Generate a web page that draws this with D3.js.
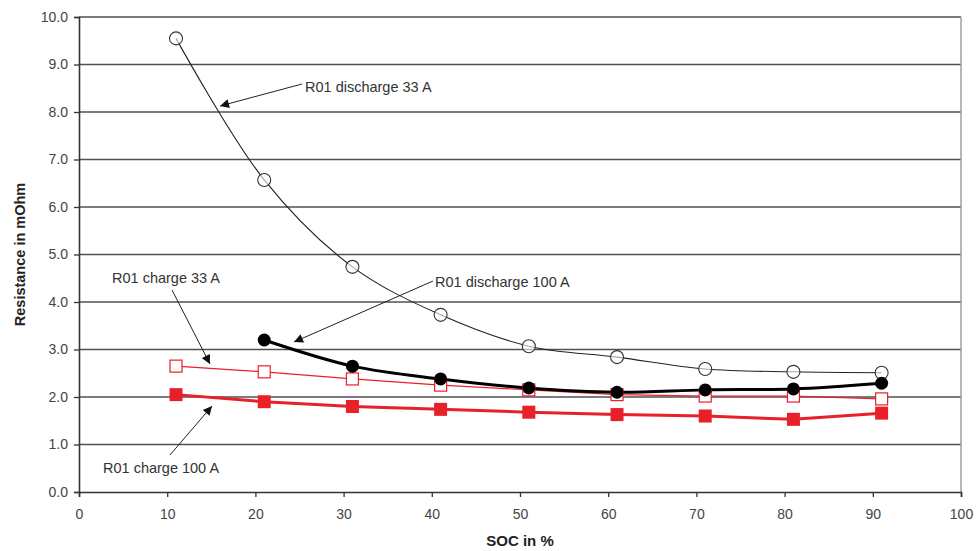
<!DOCTYPE html>
<html><head><meta charset="utf-8">
<script src="https://cdn.jsdelivr.net/npm/d3@7"></script>
<style>body{margin:0;background:#fff;} svg{display:block;font-family:Arial,"Liberation Sans",sans-serif;}</style>
</head><body><svg id="c" width="978" height="551"></svg>
<script>
const soc = [11, 21, 31, 41, 51, 61, 71, 81, 91];
const discharge33 = [9.55, 6.57, 4.74, 3.73, 3.07, 2.84, 2.59, 2.53, 2.51];
const discharge100 = [null, 3.2, 2.65, 2.38, 2.19, 2.1, 2.15, 2.17, 2.29];
const charge33 = [2.65, 2.53, 2.38, 2.25, 2.15, 2.05, 2.02, 2.02, 1.96];
const charge100 = [2.05, 1.9, 1.8, 1.74, 1.68, 1.63, 1.6, 1.53, 1.66];
const xTicks = [0, 10, 20, 30, 40, 50, 60, 70, 80, 90, 100];
const yTicks = [0, 1, 2, 3, 4, 5, 6, 7, 8, 9, 10];
const annotations = [
  {text: "R01 discharge 33 A", tx: 305, ty: 87, x1: 302, y1: 84, x2: 220, y2: 106},
  {text: "R01 discharge 100 A", tx: 435, ty: 282, x1: 433, y1: 281, x2: 294, y2: 342},
  {text: "R01 charge 33 A", tx: 112, ty: 278, x1: 172, y1: 290, x2: 210, y2: 364},
  {text: "R01 charge 100 A", tx: 103, ty: 468, x1: 170, y1: 455, x2: 212, y2: 406}
];

const svg = d3.select("#c");
const L = 79, R = 961, T = 17, B = 492;
const x = d3.scaleLinear().domain([0, 100]).range([L, R]);
const y = d3.scaleLinear().domain([0, 10]).range([B, T]);

// grid
svg.append("g").selectAll("line").data(yTicks.filter(d => d > 0)).join("line")
  .attr("x1", L).attr("x2", R).attr("y1", d => y(d)).attr("y2", d => y(d))
  .attr("stroke", "#505050").attr("stroke-width", 1.4);
// right border
svg.append("line").attr("x1", R).attr("x2", R).attr("y1", T).attr("y2", B)
  .attr("stroke", "#999").attr("stroke-width", 1.4);

// axes
const xAxis = svg.append("g").attr("transform", `translate(0,${B})`)
  .call(d3.axisBottom(x).tickValues(xTicks).tickSize(5).tickPadding(12).tickFormat(d3.format("d")));
const yAxis = svg.append("g").attr("transform", `translate(${L},0)`)
  .call(d3.axisLeft(y).tickValues(yTicks).tickSize(5).tickPadding(6).tickFormat(d3.format(".1f")));
[xAxis, yAxis].forEach(a => {
  a.select(".domain").attr("stroke", "#333").attr("stroke-width", 1.6);
  a.selectAll(".tick line").attr("stroke", "#333").attr("stroke-width", 1.3);
  a.selectAll("text").attr("fill", "#444").style("font-size", "14px").style("font-family", "Arial, 'Liberation Sans', sans-serif");
});

svg.append("text").attr("x", (L + R) / 2).attr("y", 546).attr("text-anchor", "middle")
  .style("font-weight", "bold").style("font-size", "15px").attr("fill", "#222").text("SOC in %");
svg.append("text").attr("transform", `translate(25,${(T + B) / 2}) rotate(-90)`).attr("text-anchor", "middle")
  .style("font-weight", "bold").style("font-size", "14.5px").attr("fill", "#222").text("Resistance in mOhm");

function series(vals, color, width, curve) {
  const pts = soc.map((s, i) => [s, vals[i]]).filter(p => p[1] != null);
  const line = d3.line().x(p => x(p[0])).y(p => y(p[1])).curve(curve);
  svg.append("path").attr("d", line(pts)).attr("fill", "none").attr("stroke", color).attr("stroke-width", width);
  return pts;
}

const red = "#e8202a";
const pC33 = series(charge33, red, 1.2, d3.curveLinear);
const pC100 = series(charge100, red, 3, d3.curveLinear);
const pD33 = series(discharge33, "#222", 1.1, d3.curveCatmullRom);
const pD100 = series(discharge100, "#000", 3, d3.curveCatmullRom);

// markers
svg.append("g").selectAll("rect").data(pC33).join("rect")
  .attr("x", p => x(p[0]) - 6).attr("y", p => y(p[1]) - 6).attr("width", 12).attr("height", 12)
  .attr("fill", "#fff").attr("stroke", red).attr("stroke-width", 1.2);
svg.append("g").selectAll("rect").data(pC100).join("rect")
  .attr("x", p => x(p[0]) - 6.5).attr("y", p => y(p[1]) - 6.5).attr("width", 13).attr("height", 13)
  .attr("fill", red);
svg.append("g").selectAll("circle").data(pD33).join("circle")
  .attr("cx", p => x(p[0])).attr("cy", p => y(p[1])).attr("r", 6.5)
  .attr("fill", "#fff").attr("fill-opacity", 0.6).attr("stroke", "#333").attr("stroke-width", 1.1);
svg.append("g").selectAll("circle").data(pD100).join("circle")
  .attr("cx", p => x(p[0])).attr("cy", p => y(p[1])).attr("r", 6.5)
  .attr("fill", "#000");

// annotations
svg.append("defs").append("marker").attr("id", "ah").attr("viewBox", "0 0 10 10")
  .attr("refX", 10).attr("refY", 5).attr("markerWidth", 12).attr("markerHeight", 9)
  .attr("markerUnits", "userSpaceOnUse").attr("orient", "auto")
  .append("path").attr("d", "M0,0L10,5L0,10Z").attr("fill", "#111");
const ag = svg.append("g");
annotations.forEach(a => {
  ag.append("line").attr("x1", a.x1).attr("y1", a.y1).attr("x2", a.x2).attr("y2", a.y2)
    .attr("stroke", "#222").attr("stroke-width", 1).attr("marker-end", "url(#ah)");
  ag.append("text").attr("x", a.tx).attr("y", a.ty).attr("dy", "0.35em")
    .style("font-size", "14.5px").attr("fill", "#333").text(a.text);
});
</script></body></html>
